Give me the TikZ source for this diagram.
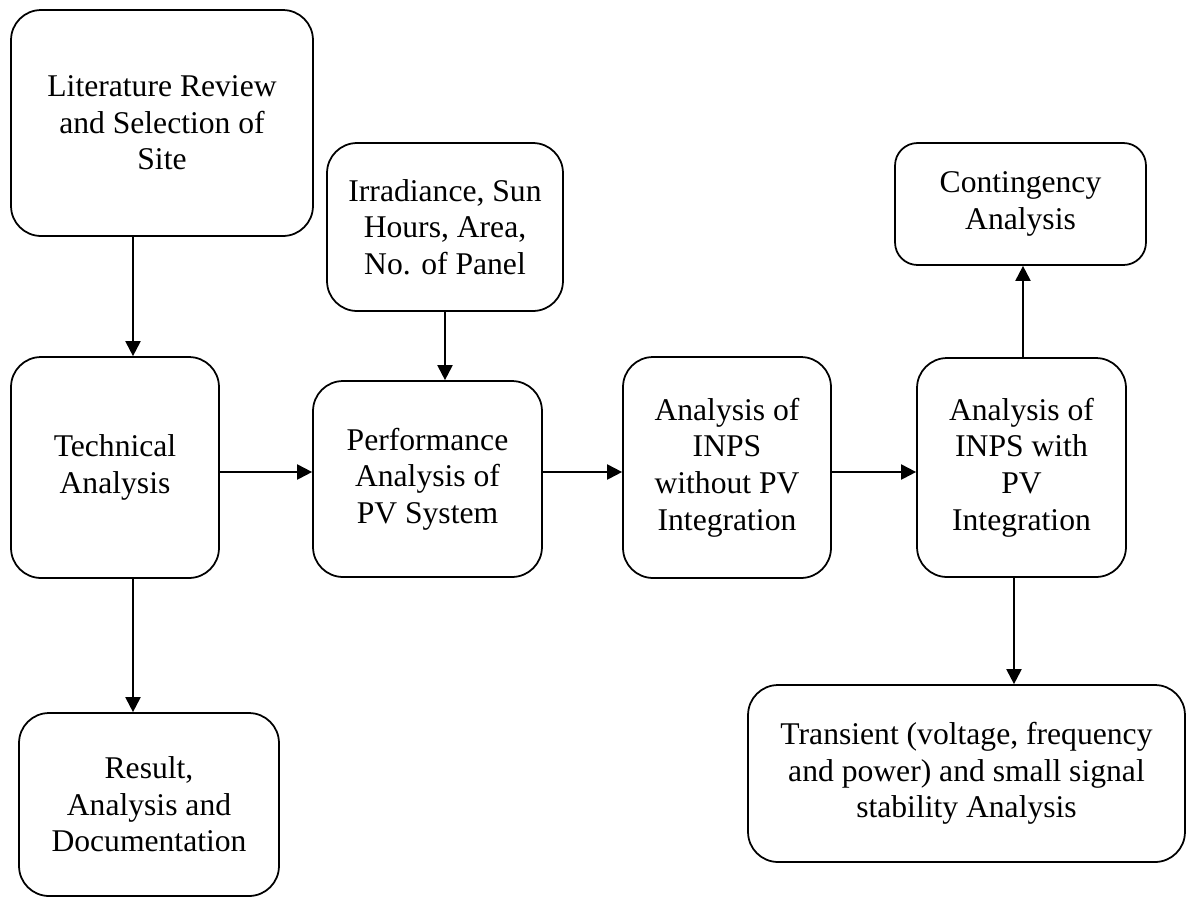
\documentclass[tikz,border=0pt]{standalone}
\usepackage{fontspec}
\setmainfont{Liberation Serif}
\usetikzlibrary{arrows.meta}

\tikzset{blk/.style={draw, line width=1pt, rounded corners=0.6cm, align=center, inner sep=0pt, font=\fontsize{18}{20.8}\selectfont},
  arr/.style={line width=1.15pt, -{Triangle[length=0.3cm,width=0.3cm]}}}

\begin{document}
\begin{tikzpicture}[x=0.02cm,y=-0.02cm]
  \useasboundingbox (0,0) rectangle (1187,897);
  \node[blk, minimum width=6.04cm, minimum height=4.52cm] (lit) at (162,123) {Literature Review\\and Selection of\\Site};
  \node[blk, minimum width=4.72cm, minimum height=3.36cm] (irr) at (445,227) {Irradiance, Sun\\Hours, Area,\\No. of Panel};
  \node[blk, minimum width=5.02cm, minimum height=2.44cm, rounded corners=0.45cm] (cont) at (1020.5,204) {Contingency\\Analysis};
  \node[blk, minimum width=4.16cm, minimum height=4.42cm] (tech) at (115,467.5) {Technical\\Analysis};
  \node[blk, minimum width=4.58cm, minimum height=3.92cm] (perf) at (427.5,479) {Performance\\Analysis of\\PV System};
  \node[blk, minimum width=4.16cm, minimum height=4.42cm] (inpsA) at (727,467.5) {Analysis of\\INPS\\without PV\\Integration};
  \node[blk, minimum width=4.18cm, minimum height=4.38cm] (inpsB) at (1021.5,467.5) {Analysis of\\INPS with\\PV\\Integration};
  \node[blk, minimum width=5.2cm, minimum height=3.66cm] (res) at (149,804.5) {Result,\\Analysis and\\Documentation};
  \node[blk, minimum width=8.74cm, minimum height=3.54cm] (trans) at (966.5,773.5) {Transient (voltage, frequency\\and power) and small signal\\stability Analysis};
  % connector lines
  \coordinate (row) at (0,472); \coordinate (colA) at (133,0); \coordinate (colB) at (1023,0); \coordinate (colC) at (1014,0);
  \draw[arr] (lit.south -| colA) -- (tech.north -| colA);
  \draw[arr] (tech.south -| colA) -- (res.north -| colA);
  \draw[arr] (irr.south) -- (perf.north -| irr.south);
  \draw[arr] (tech.east |- row) -- (perf.west |- row);
  \draw[arr] (perf.east |- row) -- (inpsA.west |- row);
  \draw[arr] (inpsA.east |- row) -- (inpsB.west |- row);
  \draw[arr] (inpsB.north -| colB) -- (cont.south -| colB);
  \draw[arr] (inpsB.south -| colC) -- (trans.north -| colC);
\end{tikzpicture}
\end{document}
